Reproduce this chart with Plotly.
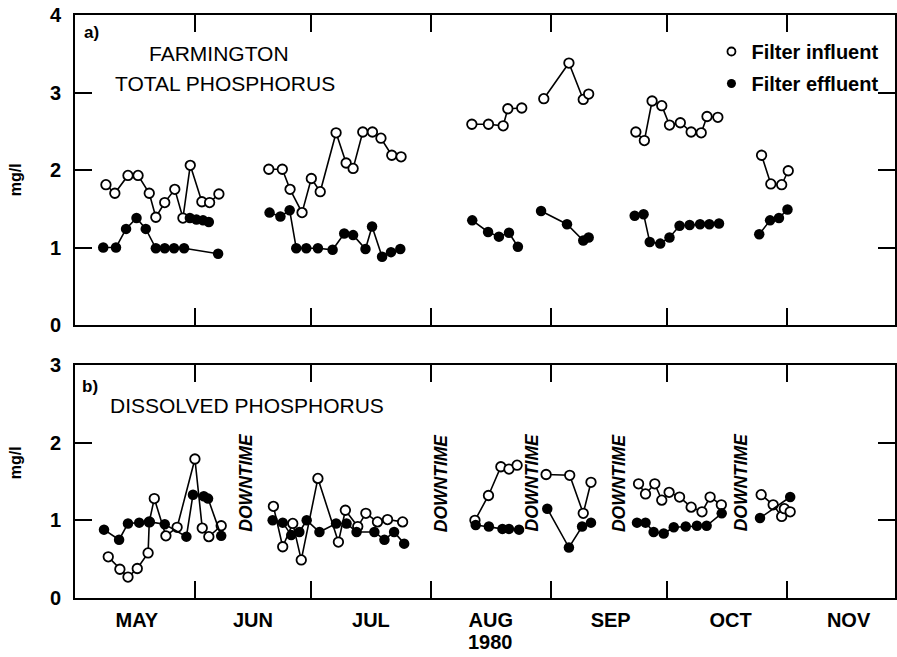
import plotly.graph_objects as go

# x values: days after 1 May 1980 ; None separates sampling runs
top_in_x = [8.0, 10.3, 13.7, 16.3, 19.2, 20.9, 23.2, 25.8, 27.9, 29.8, 32.8, 34.8, 37.2, None,
            50.1, 53.6, 55.6, 58.7, 61.1, 63.4, 67.5, 70.1, 71.9, 74.4, 76.9, 79.1, 81.9, 84.3, None,
            102.6, 106.9, 110.7, 111.9, 115.5, None,
            121.2, 127.7, 131.4, 132.8, None,
            145.0, 147.2, 149.2, 151.7, 153.7, 156.5, 159.3, 161.9, 163.4, 166.2, None,
            177.5, 179.9, 182.7, 184.4]
top_in_y = [1.81, 1.70, 1.93, 1.93, 1.70, 1.39, 1.58, 1.75, 1.38, 2.06, 1.59, 1.58, 1.69, None,
            2.01, 2.01, 1.75, 1.45, 1.89, 1.72, 2.48, 2.09, 2.02, 2.49, 2.49, 2.41, 2.19, 2.17, None,
            2.59, 2.59, 2.57, 2.79, 2.80, None,
            2.92, 3.38, 2.91, 2.98, None,
            2.49, 2.38, 2.89, 2.83, 2.58, 2.61, 2.49, 2.48, 2.69, 2.68, None,
            2.19, 1.82, 1.81, 1.99]

top_ef_x = [7.3, 10.6, 13.2, 15.9, 18.3, 20.9, 23.2, 25.6, 28.2, 37.0, None,
            29.7, 31.4, 33.1, 34.6, None,
            50.3, 53.1, 55.5, 57.2, 59.8, 62.8, 66.6, 69.6, 71.9, 75.1, 76.8, 79.4, 81.7, 84.1, None,
            102.7, 106.8, 109.6, 112.2, 114.5, None,
            120.5, 127.2, 131.4, 132.8, None,
            144.7, 147.0, 148.6, 151.3, 153.7, 156.3, 158.9, 161.6, 164.0, 166.5, None,
            176.9, 179.7, 182.0, 184.2]
top_ef_y = [1.00, 1.00, 1.24, 1.38, 1.24, 0.99, 0.99, 0.99, 0.99, 0.92, None,
            1.38, 1.36, 1.35, 1.33, None,
            1.45, 1.40, 1.48, 0.99, 0.99, 0.99, 0.97, 1.18, 1.16, 0.98, 1.27, 0.88, 0.94, 0.98, None,
            1.35, 1.20, 1.14, 1.19, 1.01, None,
            1.47, 1.30, 1.09, 1.13, None,
            1.41, 1.43, 1.07, 1.05, 1.13, 1.28, 1.29, 1.30, 1.30, 1.31, None,
            1.17, 1.35, 1.38, 1.49]

bot_in_x = [8.6, 11.6, 13.7, 16.1, 18.9, 19.2, 20.5, 23.5, 26.4, 31.0, 32.9, 34.6, 37.8, None,
            51.3, 53.7, 56.3, 58.5, 62.8, 68.1, 69.9, 73.1, 75.2, 78.2, 80.8, 84.7, None,
            103.4, 106.9, 110.1, 112.2, 114.3, None,
            121.8, 127.9, 131.4, 133.4, None,
            145.7, 147.5, 149.9, 151.7, 153.6, 156.3, 159.3, 162.1, 164.2, 167.1, None,
            177.4, 180.5, 182.7, 183.4, 184.9]
bot_in_y = [0.53, 0.37, 0.27, 0.38, 0.58, 0.98, 1.28, 0.80, 0.91, 1.79, 0.90, 0.79, 0.93, None,
            1.18, 0.66, 0.96, 0.49, 1.54, 0.72, 1.13, 0.92, 1.09, 0.98, 1.01, 0.98, None,
            1.00, 1.32, 1.69, 1.66, 1.71, None,
            1.59, 1.58, 1.09, 1.49, None,
            1.47, 1.34, 1.47, 1.26, 1.36, 1.30, 1.17, 1.11, 1.30, 1.20, None,
            1.33, 1.20, 1.05, 1.15, 1.11]

bot_ef_x = [7.5, 11.4, 13.7, 16.6, 19.3, 23.2, 28.8, 30.5, 33.3, 34.4, 37.8, None,
            51.1, 53.7, 55.9, 58.0, 59.9, 63.2, 67.5, 70.2, 72.8, 77.4, 80.0, 82.5, 85.1, None,
            103.6, 107.0, 110.5, 112.2, 114.8, None,
            122.1, 127.7, 131.1, 133.4, None,
            145.3, 147.5, 149.6, 152.2, 154.8, 157.9, 160.8, 163.3, 167.2, None,
            177.1, 184.9]
bot_ef_y = [0.88, 0.75, 0.96, 0.97, 0.98, 0.95, 0.79, 1.33, 1.31, 1.28, 0.80, None,
            1.00, 0.97, 0.81, 0.85, 1.00, 0.85, 0.96, 0.96, 0.85, 0.85, 0.75, 0.85, 0.70, None,
            0.94, 0.92, 0.89, 0.89, 0.88, None,
            1.15, 0.65, 0.92, 0.97, None,
            0.97, 0.97, 0.85, 0.83, 0.91, 0.92, 0.93, 0.93, 1.09, None,
            1.03, 1.30]

month_starts = [31, 61, 92, 123, 153, 184]
month_label_pos = [16, 46, 76.5, 107.5, 138.5, 169.5, 200]
month_labels = ["MAY", "JUN", "JUL", "AUG", "SEP", "OCT", "NOV"]
downtime_x = [44.3, 94.6, 118.2, 140.6, 172.2]

FONT = "Liberation Sans, Arial, sans-serif"
W, H = 897, 657
L, R, T, B = 75, 0, 15, 59
PW, PH = W - L - R, H - T - B


def px_x(p):
    return (p - L) / PW


def px_y(p):
    return (H - B - p) / PH


fig = go.Figure()

open_marker = dict(symbol="circle", size=9.5, color="white", line=dict(color="black", width=1.8))
full_marker = dict(symbol="circle", size=10.5, color="black", line=dict(color="black", width=0))
line_style = dict(color="black", width=1.6)

for xa, ya, xs, ys, mk in [
    ("x", "y", top_in_x, top_in_y, open_marker),
    ("x", "y", top_ef_x, top_ef_y, full_marker),
    ("x2", "y2", bot_in_x, bot_in_y, open_marker),
    ("x2", "y2", bot_ef_x, bot_ef_y, full_marker),
]:
    fig.add_trace(go.Scatter(x=xs, y=ys, xaxis=xa, yaxis=ya, mode="lines+markers",
                             marker=mk, line=line_style, connectgaps=False,
                             showlegend=False, hoverinfo="x+y"))

# legend entries
fig.add_trace(go.Scatter(x=[None], y=[None], mode="markers", name="Filter influent",
                         marker=dict(symbol="circle", size=8, color="white",
                                     line=dict(color="black", width=1.8)),
                         legendgroup="a"))
fig.add_trace(go.Scatter(x=[None], y=[None], mode="markers", name="Filter effluent",
                         marker=dict(symbol="circle", size=9, color="black"),
                         legendgroup="b"))

axis_common = dict(showline=True, linecolor="black", linewidth=2, mirror="ticks",
                   showgrid=False, zeroline=False)

xaxis_common = dict(axis_common, range=[0, 212], tickmode="array",
                    tickvals=month_label_pos, ticktext=month_labels, ticks="",
                    minor=dict(tickmode="array", tickvals=month_starts, ticks="inside",
                               ticklen=17, tickwidth=2, tickcolor="black"))

yfont = dict(family=FONT, size=20, color="black", weight="bold")

fig.update_layout(
    width=W, height=H,
    margin=dict(l=L, r=R, t=T, b=B),
    paper_bgcolor="white", plot_bgcolor="white",
    font=dict(family=FONT, color="black"),
    xaxis=dict(xaxis_common, anchor="y", showticklabels=False, domain=[0, 1]),
    xaxis2=dict(xaxis_common, anchor="y2", matches="x", showticklabels=True,
                tickfont=dict(family=FONT, size=20, color="black", weight="bold"),
                ticklabelstandoff=3),
    yaxis=dict(axis_common, domain=[px_y(325), 1], range=[0, 4], tickvals=[0, 1, 2, 3, 4],
               ticks="inside", ticklen=17, tickwidth=2, tickcolor="black",
               tickfont=yfont, ticklabelstandoff=8),
    yaxis2=dict(axis_common, domain=[0, px_y(365)], range=[0, 3], tickvals=[0, 1, 2, 3],
                ticks="inside", ticklen=17, tickwidth=2, tickcolor="black",
                tickfont=yfont, ticklabelstandoff=8),
    legend=dict(x=px_x(713), y=px_y(32), xanchor="left", yanchor="top",
                font=dict(family=FONT, size=20, color="black", weight="bold"),
                bgcolor="rgba(0,0,0,0)", itemwidth=30, tracegroupgap=3),
    showlegend=True,
)

ann = []


def text(px, py, s, size, bold=False, italic=False, angle=0, xanchor="left"):
    f = dict(family=FONT, size=size, color="black")
    if bold:
        f["weight"] = "bold"
    if italic:
        f["style"] = "italic"
    ann.append(dict(x=px_x(px), y=px_y(py), xref="paper", yref="paper", text=s,
                    showarrow=False, xanchor=xanchor, yanchor="middle", font=f,
                    textangle=angle))


text(82, 33, "a)", 17, bold=True)
text(147, 53, "FARMINGTON", 21)
text(113, 83, "TOTAL PHOSPHORUS", 21)
text(80, 386, "b)", 17, bold=True)
text(108, 405, "DISSOLVED PHOSPHORUS", 21)
text(15, 180, "mg/l", 16, bold=True, angle=-90, xanchor="center")
text(15, 463, "mg/l", 16, bold=True, angle=-90, xanchor="center")

for dx in downtime_x:
    ann.append(dict(x=dx, y=1.49, xref="x2", yref="y2", text="DOWNTIME", showarrow=False,
                    textangle=-90, xanchor="center", yanchor="middle",
                    font=dict(family=FONT, size=17.5, color="black", weight="bold", style="italic")))

ann.append(dict(x=107.5, y=px_y(642), xref="x2", yref="paper", text="1980", showarrow=False,
                xanchor="center", yanchor="middle",
                font=dict(family=FONT, size=20, color="black", weight="bold")))

fig.update_layout(annotations=ann)

fig.write_html("out.html")
